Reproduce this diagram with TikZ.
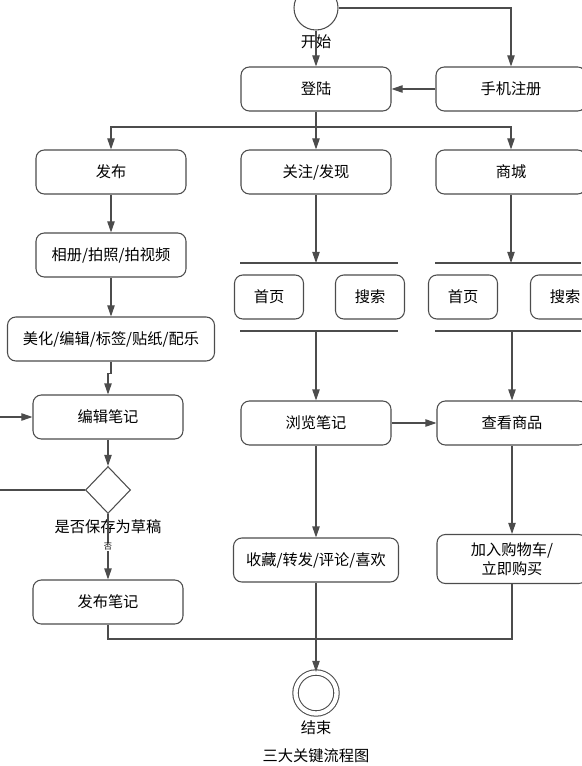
\documentclass[tikz,border=0pt]{standalone}
\usepackage{fontspec}
\usepackage{tikz}
\usetikzlibrary{shapes.geometric, arrows.meta, positioning}
\newfontfamily\cjk{Noto Sans CJK SC}

\begin{document}
\begin{tikzpicture}[x=0.03cm, y=-0.03cm,
    font=\cjk\fontsize{13}{16}\selectfont,
    line/.style={draw=black!70, line width=0.9pt},
    flow/.style={line, -{Triangle[length=0.33cm, width=0.22cm]}},
    act/.style={line, rounded corners=0.25cm, minimum width=4.5cm,
        minimum height=1.32cm, align=center, inner sep=2pt},
    small act/.style={act, minimum width=2.07cm}]
\useasboundingbox (0,0) rectangle (581,766);
% Start, login and register
\node[circle, line, minimum size=1.32cm] (start) at (316,8) {};
\node (startlbl) at (316,42) {开始};
\node[act] (login) at (316,89) {登陆};
\node[act] (register) at (511,89) {手机注册};
% Three main branches
\node[act] (publish) at (111,172) {发布};
\node[act] (follow) at (316,172) {关注/发现};
\node[act] (mall) at (511,172) {商城};
% Publish branch
\node[act] (album) at (111,255) {相册/拍照/拍视频};
\node[act, minimum width=6.21cm] (beautify) at (111,339) {美化/编辑/标签/贴纸/配乐};
\node[act] (editnote) at (108,417) {编辑笔记};
\node[diamond, line, minimum width=1.35cm, minimum height=1.41cm, inner sep=0pt] (decide) at (108,490) {};
\node (decidelbl) at (108,527) {是否保存为草稿};
\node[act] (pubnote) at (108,602) {发布笔记};
% Home / search pairs between the bars
\node[small act] (home1) at (269,297) {首页};
\node[small act] (search1) at (370,297) {搜索};
\node[small act] (home2) at (463,297) {首页};
\node[small act] (search2) at (565,297) {搜索};
\foreach \y in {263,331} {
    \draw[line] (240,\y) -- (398,\y);
    \draw[line] (435,\y) -- (581,\y);
}
% Browse and shop
\node[act] (browse) at (316,423) {浏览笔记};
\node[act] (goods) at (512,423) {查看商品};
\node[act, minimum width=4.95cm] (collect) at (316,560) {收藏/转发/评论/喜欢};
\node[act, minimum height=1.47cm] (cart) at (512,559) {加入购物车/\\立即购买};
% End
\node[circle, line, double, double distance=0.13cm, minimum size=1.23cm] (end) at (316,693) {};
\node (endlbl) at (316,728) {结束};
\node (caption) at (316,756) {三大关键流程图};

\coordinate (split) at (316,127);
\coordinate (forkA) at (316,263);
\coordinate (joinA) at (316,331);
\coordinate (forkB) at (511,263);
\coordinate (joinB) at (512,331);
\coordinate (backin) at (0,417);
\coordinate (backout) at (0,490);
\coordinate (merge) at (316,639);

\draw[flow] (start) -- (login);
\draw[flow] (start.east) -| (register.north);
\draw[flow] (register) -- (login);
\draw[flow] (login) -- (follow);
\draw[flow] (split) -| (publish);
\draw[flow] (split) -| (mall);
\draw[flow] (publish) -- (album);
\draw[flow] (album) -- (beautify);
\draw[flow] (beautify.south) -- ++(0,12) -| (editnote.north);
\draw[flow] (backin) -- (editnote);
\draw[flow] (editnote) -- (decide);
\draw[line] (decide) -- (backout);
\draw[flow] (decide) -- node[pos=0.5, fill=white, inner sep=0.5pt,
    font=\cjk\fontsize{7}{8}\selectfont] {否} (pubnote);
\draw[flow] (follow) -- (forkA);
\draw[flow] (mall) -- (forkB);
\draw[flow] (joinA) -- (browse);
\draw[flow] (joinB) -- (goods);
\draw[flow] (browse) -- (goods);
\draw[flow] (browse) -- (collect);
\draw[flow] (goods) -- (cart);
\draw[line] (pubnote) |- (merge);
\draw[line] (cart) |- (merge);
\draw[flow] (collect) -- (end);
\end{tikzpicture}
\end{document}
